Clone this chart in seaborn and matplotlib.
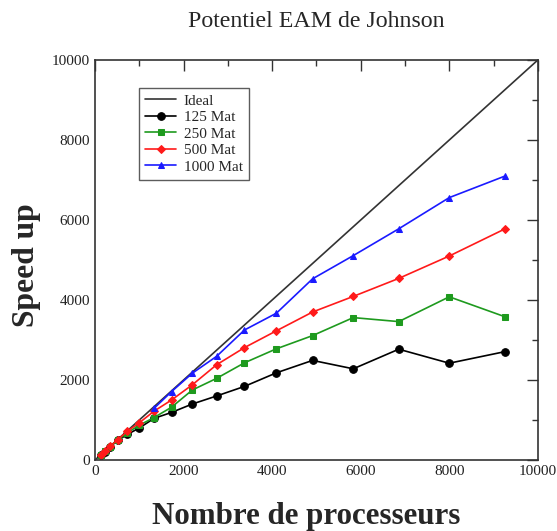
import numpy as np
import pandas as pd
import matplotlib
matplotlib.use("Agg")
import matplotlib.pyplot as plt
import seaborn as sns
from matplotlib.ticker import MultipleLocator

sns.set_theme(style="white")
plt.rcParams['font.family'] = ['Liberation Serif', 'DejaVu Serif']

# Data (processor counts are cubes)
procs = [125, 216, 343, 512, 729, 1000, 1331, 1728, 2197, 2744, 3375, 4096,
         4913, 5832, 6859, 8000, 9261]
ideal_x = [0, 10000]
ideal_y = [0, 10000]
s125 = [120, 210, 330, 490, 640, 800, 1040, 1190, 1400, 1600, 1840, 2180,
        2490, 2280, 2770, 2420, 2710]
s250 = [125, 215, 335, 500, 680, 870, 1060, 1320, 1750, 2040, 2430, 2780,
        3110, 3560, 3460, 4080, 3580]
s500 = [125, 216, 340, 510, 720, 930, 1220, 1500, 1880, 2380, 2810, 3230,
        3700, 4090, 4540, 5100, 5780]
procs_1000 = [1331, 1728, 2197, 2744, 3375, 4096, 4913, 5832, 6859, 8000, 9261]
s1000 = [1290, 1710, 2170, 2590, 3250, 3670, 4530, 5110, 5780, 6560, 7100]

labels = ["Ideal", "125 Mat", "250 Mat", "500 Mat", "1000 Mat"]

fig = plt.figure(figsize=(5.57, 5.31), dpi=100)
ax = fig.add_axes([0.1706, 0.1337, 0.795, 0.7533])

sns.lineplot(x=ideal_x, y=ideal_y, ax=ax, color="#333333", lw=1.2, label=labels[0])
series = [
    (procs, s125, "black", "o", 5.5, labels[1]),
    (procs, s250, "#1e9a1e", "s", 4.5, labels[2]),
    (procs, s500, "#ff1a1a", "D", 4.0, labels[3]),
    (procs_1000, s1000, "#1a1aff", "^", 5.0, labels[4]),
]
for xs, ys, c, m, ms, lab in series:
    sns.lineplot(x=xs, y=ys, ax=ax, color=c, lw=1.2, marker=m, markersize=ms,
                 markeredgecolor=c, markerfacecolor=c, label=lab)

ax.set_xlim(0, 10000)
ax.set_ylim(0, 10000)
ax.xaxis.set_major_locator(MultipleLocator(2000))
ax.xaxis.set_minor_locator(MultipleLocator(1000))
ax.yaxis.set_major_locator(MultipleLocator(2000))
ax.yaxis.set_minor_locator(MultipleLocator(1000))
ax.tick_params(which='both', direction='in', top=True, right=True, color='#333333',
               labelsize=11, labelcolor='#222222')
ax.tick_params(which='major', length=8, width=1)
ax.tick_params(which='minor', length=4, width=1)
for sp in ax.spines.values():
    sp.set_color('#333333')
    sp.set_linewidth(1.2)

ax.set_title("Potentiel EAM de Johnson", fontsize=17.2, pad=24)
ax.set_xlabel("Nombre de processeurs", fontsize=22.3, fontweight='bold')
ax.set_ylabel("Speed up", fontsize=22.8, fontweight='bold')
ax.xaxis.set_label_coords(0.476, -0.105)
ax.yaxis.set_label_coords(-0.121, 0.4875)

leg = ax.legend(loc='upper left', bbox_to_anchor=(0.1, 0.93), fontsize=11,
                frameon=True, fancybox=False, edgecolor='#333333',
                handlelength=2.0, handletextpad=0.5, borderpad=0.4,
                labelspacing=0.18, borderaxespad=0)
leg.get_frame().set_linewidth(1.0)

fig.savefig("out.png", dpi=100)
